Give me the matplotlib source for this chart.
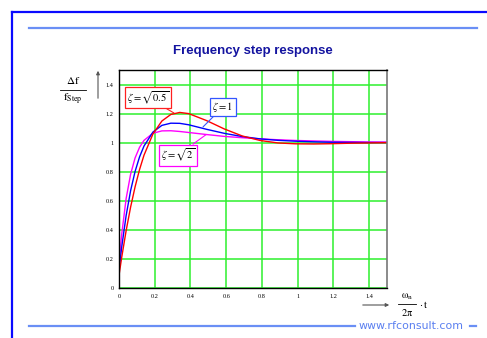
import matplotlib
matplotlib.use('Agg')
import matplotlib.pyplot as plt
from matplotlib.lines import Line2D

# Данные (x = wn*t / 2pi)
x_vals = [0.0, 0.015, 0.04, 0.065, 0.09, 0.115, 0.14, 0.19, 0.24, 0.29, 0.34, 0.39,
          0.49, 0.59, 0.69, 0.79, 0.89, 0.99, 1.09, 1.19, 1.29, 1.39, 1.5]
resp_zeta_05 = [0.087, 0.21, 0.395, 0.557, 0.696, 0.815, 0.914, 1.06, 1.149, 1.194, 1.208, 1.2,
                1.152, 1.094, 1.046, 1.015, 0.998, 0.992, 0.991, 0.993, 0.996, 0.998, 1.0]
resp_zeta_1 = [0.12, 0.28, 0.499, 0.67, 0.802, 0.902, 0.977, 1.073, 1.119, 1.134, 1.133, 1.123,
               1.092, 1.064, 1.042, 1.026, 1.016, 1.01, 1.006, 1.003, 1.002, 1.001, 1.001]
resp_zeta_2 = [0.164, 0.368, 0.616, 0.783, 0.895, 0.968, 1.016, 1.065, 1.081, 1.082, 1.077, 1.07,
               1.056, 1.043, 1.034, 1.026, 1.02, 1.015, 1.012, 1.009, 1.007, 1.005, 1.004]
tick_vals = [0, 0.2, 0.4, 0.6, 0.8, 1, 1.2, 1.4]
tick_labels = ['0', '0.2', '0.4', '0.6', '0.8', '1', '1.2', '1.4']

plt.rcParams['mathtext.fontset'] = 'stix'

fig = plt.figure(figsize=(4.87, 3.38), dpi=100)
W, H = 487.0, 338.0


def fx(px):
    return px / W


def fy(py):
    return 1 - py / H


# Рамка слайда
fig.add_artist(Line2D([fx(12), 1], [fy(12), fy(12)], color='#0a0aff', lw=1.6))
fig.add_artist(Line2D([fx(12), fx(12)], [fy(12), 0], color='#0a0aff', lw=1.6))
fig.add_artist(Line2D([fx(29), fx(477)], [fy(27.5), fy(27.5)], color='#6a8ff5', lw=1.6))
fig.add_artist(Line2D([fx(29), fx(355)], [fy(326), fy(326)], color='#6a8ff5', lw=1.6))
fig.add_artist(Line2D([fx(470), fx(476)], [fy(326), fy(326)], color='#6a8ff5', lw=1.6))
fig.text(fx(411), fy(326), 'www.rfconsult.com', color='#5a7ff0', fontsize=7.9,
         ha='center', va='center', family='DejaVu Sans')

fig.text(fx(253), fy(51), 'Frequency step response', color='#1414a0', fontsize=9.5,
         fontweight='bold', ha='center', va='center', family='Liberation Sans')

# График
ax = fig.add_axes([fx(119), fy(288), fx(387) - fx(119), fy(70) - fy(288)])
ax.plot(x_vals, resp_zeta_2, color='#ff00ff', lw=1.0)
ax.plot(x_vals, resp_zeta_1, color='#0000ff', lw=1.0)
ax.plot(x_vals, resp_zeta_05, color='#ff0000', lw=1.0)
ax.set_xlim(0, 1.5)
ax.set_ylim(0, 1.5)
ax.set_xticks(tick_vals)
ax.set_xticklabels(tick_labels)
ax.set_yticks(tick_vals)
ax.set_yticklabels(tick_labels)
ax.tick_params(length=0, labelsize=4.5, pad=4)
for lbl in ax.get_xticklabels() + ax.get_yticklabels():
    lbl.set_family('Liberation Serif')
ax.grid(True, color='#2ef02e', lw=1.1)
ax.set_axisbelow(True)
for side in ['left', 'bottom', 'top']:
    ax.spines[side].set_color('black')
    ax.spines[side].set_linewidth(1.0)
ax.spines['right'].set_color('#777777')
ax.spines['right'].set_linewidth(1.2)

# Подписи кривых
def label(text, xy, xytext, color):
    ax.annotate(text, xy=xy, xytext=xytext, fontsize=7.5, ha='center', va='center',
                bbox=dict(boxstyle='square,pad=0.2', fc='white', ec=color, lw=0.9),
                arrowprops=dict(arrowstyle='-', color=color, lw=0.8, shrinkA=0, shrinkB=0))

label(r'$\zeta = \sqrt{0.5}$', (0.308, 1.204), (0.162, 1.308), '#ff2020')
label(r'$\zeta = 1$', (0.47, 1.108), (0.582, 1.246), '#3355ff')
label(r'$\zeta = \sqrt{2}$', (0.487, 1.055), (0.33, 0.915), '#ff00ff')

# Подписи осей
fig.text(fx(73), fy(81), r'$\mathrm{\Delta f}$', fontsize=8, ha='center', va='center')
fig.add_artist(Line2D([fx(60), fx(86)], [fy(90), fy(90)], color='black', lw=0.6))
fig.text(fx(73), fy(99), r'$\mathrm{f_{Step}}$', fontsize=8, ha='center', va='center')
ax.annotate('', xy=(fx(98), fy(68)), xytext=(fx(98), fy(101)), xycoords='figure fraction',
            arrowprops=dict(arrowstyle='-|>', color='#555555', lw=0.8, mutation_scale=5))

ax.annotate('', xy=(fx(392), fy(305)), xytext=(fx(360), fy(305)), xycoords='figure fraction',
            arrowprops=dict(arrowstyle='-|>', color='#555555', lw=0.8, mutation_scale=5))
fig.text(fx(407), fy(297), r'$\mathrm{\omega_n}$', fontsize=7.5, ha='center', va='center')
fig.add_artist(Line2D([fx(398), fx(416)], [fy(304), fy(304)], color='black', lw=0.6))
fig.text(fx(407), fy(312), r'$\mathrm{2\pi}$', fontsize=7.5, ha='center', va='center')
fig.text(fx(419), fy(304), r'$\mathrm{\cdot\, t}$', fontsize=7.5, ha='left', va='center')

fig.savefig('out.png', dpi=100)
